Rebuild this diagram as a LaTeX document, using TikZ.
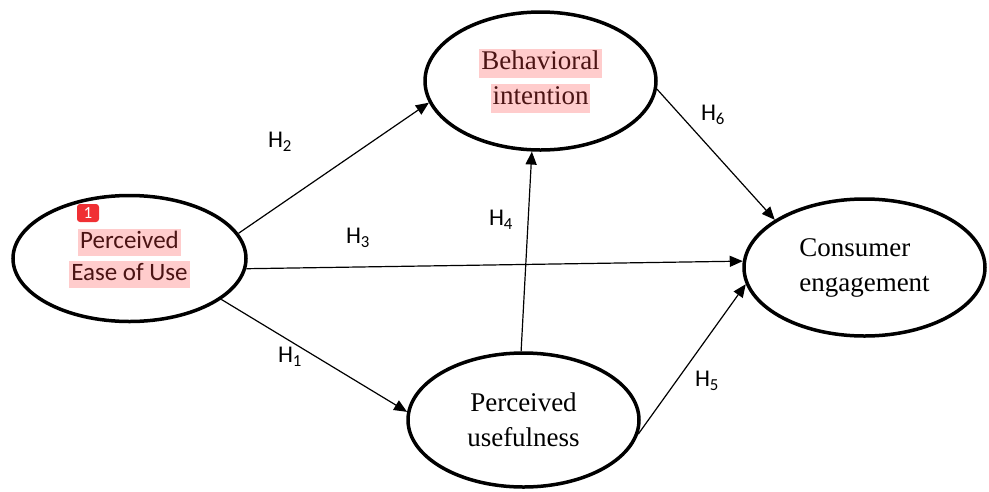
\documentclass[tikz,border=0pt]{standalone}
\usepackage{fontspec}
\setmainfont{Liberation Serif}
\newfontfamily\labelfont{Carlito}
\usetikzlibrary{arrows.meta,shapes.geometric}
\definecolor{hlpink}{RGB}{255,204,204}
\definecolor{hltext}{RGB}{75,20,20}
\definecolor{badgered}{RGB}{240,48,52}
\setlength{\fboxsep}{0pt}
\newcommand{\hlbox}[1]{\colorbox{hlpink}{\kern2pt\rule[-.32em]{0pt}{1.1em}\textcolor{hltext}{#1}\kern2pt}}

\tikzset{
  construct/.style={ellipse,draw,line width=3.5pt,inner sep=0pt,align=center,font=\fontsize{27}{35}\selectfont},
  hyp/.style={-{Triangle[length=13pt,width=11pt]},line width=1.2pt},
  hlabel/.style={font=\labelfont\fontsize{24}{28}\selectfont,inner sep=0pt}
}

\begin{document}
\begin{tikzpicture}[x=1pt,y=1pt,yscale=-1,xscale=1]
\useasboundingbox (0,0) rectangle (989,491);

%Shape: Ellipse
\node (peu) [construct,minimum width=233,minimum height=126,font=\labelfont\fontsize{25}{32}\selectfont] at (129.5,258.5) {\hlbox{Perceived}\\\hlbox{Ease of Use}};
%Shape: Ellipse
\node (bi) [construct,minimum width=231,minimum height=138] at (540.5,81) {\hlbox{Behavioral}\\\hlbox{intention}};
%Shape: Ellipse
\node (ce) [construct,minimum width=241,minimum height=137,align=left] at (864.5,267.5) {Consumer\\engagement};
%Shape: Ellipse
\node (pu) [construct,minimum width=231,minimum height=134] at (523.5,420) {Perceived\\usefulness};

%Straight Lines
\draw [hyp] (peu.13) -- (bi.191) ;
%Straight Lines
\draw [hyp] (peu.-5) -- (ce.177) ;
%Straight Lines
\draw [hyp] (peu.-24) -- (pu.176) ;
%Straight Lines
\draw [hyp] (pu.92) -- (bi.263) ;
%Straight Lines
\draw [hyp] (bi.-4) -- (ce.152) ;
%Straight Lines
\draw [hyp] (pu.-7) -- (ce.188) ;

% Text Node
\node (h1) [hlabel] at (290,357) {H\textsubscript{1}};
% Text Node
\node (h2) [hlabel] at (280,142) {H\textsubscript{2}};
% Text Node
\node (h3) [hlabel] at (358,238) {H\textsubscript{3}};
% Text Node
\node (h4) [hlabel] at (501,220) {H\textsubscript{4}};
% Text Node
\node (h5) [hlabel] at (707,381) {H\textsubscript{5}};
% Text Node
\node (h6) [hlabel] at (713,115) {H\textsubscript{6}};

% Text Node
\node (badge) [fill=badgered,rounded corners=3pt,minimum width=22pt,minimum height=18pt,inner sep=0pt,text=white,font=\labelfont\fontsize{17}{17}\selectfont] at (88,213) {1};

\end{tikzpicture}
\end{document}
